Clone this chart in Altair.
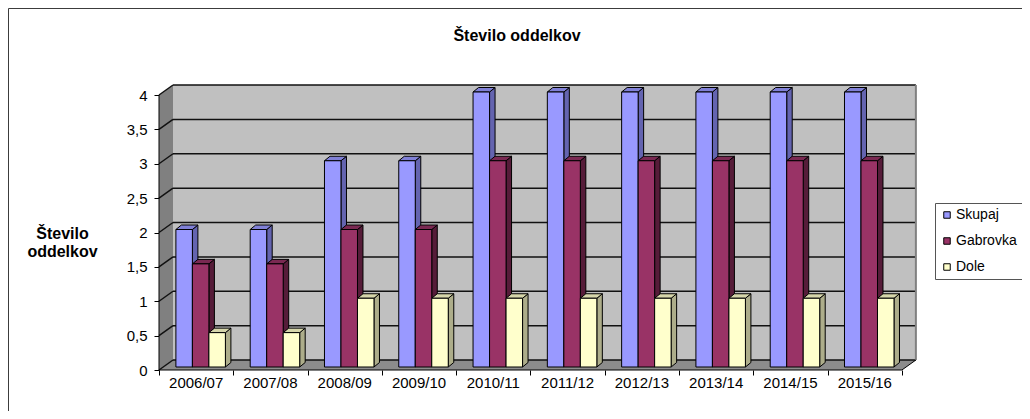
import altair as alt
import pandas as pd

# ---- data ----
categories = ["2006/07", "2007/08", "2008/09", "2009/10", "2010/11",
              "2011/12", "2012/13", "2013/14", "2014/15", "2015/16"]
skupaj = [2, 2, 3, 3, 4, 4, 4, 4, 4, 4]
gabrovka = [1.5, 1.5, 2, 2, 3, 3, 3, 3, 3, 3]
dole = [0.5, 0.5, 1, 1, 1, 1, 1, 1, 1, 1]
series_names = ["Skupaj", "Gabrovka", "Dole"]
y_ticks = [0, 0.5, 1, 1.5, 2, 2.5, 3, 3.5, 4]
chart_title = "Število oddelkov"

# ---- styles ----
front_colors = ["#9999FF", "#993366", "#FFFFCC"]
side_colors = ["#6464B0", "#561C39", "#ADAD8A"]
top_colors = ["#8080D6", "#7A2952", "#D6D6AA"]
FONT = "Liberation Sans"

# ---- geometry (plot area in px, converted to scale units) ----
W, H = 757, 286
XMAX, YMAX = 10.19, 4.16
PX, PY = W / XMAX, H / YMAX


def ux(p):
    return p / PX


def uy(p):
    return p / PY


N = len(categories)
YTOP = max(y_ticks)
WX, WY = ux(14), uy(10)          # wall depth
G0, BW = ux(12.4), ux(16.5)      # group gap, bar width
BX0, BY0 = ux(4.5), uy(3)        # bar front plane offset
BDX, BDY = ux(5.5), uy(4.5)      # bar depth

xscale = alt.Scale(domain=[0, XMAX], nice=False, zero=False)
yscale = alt.Scale(domain=[0, YMAX], nice=False, zero=False)
xaxis = alt.Axis(values=list(range(N + 1)), labels=False, tickSize=5, tickColor="black",
                 domain=False, grid=False, title=None)
yaxis = alt.Axis(values=y_ticks, format=".1~f", labelExpr="replace(datum.label, '.', ',')",
                 tickSize=5, tickColor="black", labelPadding=7, domain=False, grid=False,
                 labelFontSize=15, labelColor="black", labelFont=FONT,
                 title=["Število", "oddelkov"], titleAngle=0, titleX=-97, titleY=154,
                 titleAlign="center", titleBaseline="alphabetic", titleLineHeight=18,
                 titleFontSize=16, titleFontWeight="bold", titleColor="black", titleFont=FONT)


def X(f):
    return alt.X(f, type="quantitative", scale=xscale, axis=xaxis, stack=None)


def Y(f):
    return alt.Y(f, type="quantitative", scale=yscale, axis=yaxis, stack=None)


# walls
back_df = pd.DataFrame([{"x": WX, "x2": N + WX, "y": WY, "y2": YTOP + WY}])
back = alt.Chart(back_df).mark_rect(fill="#C0C0C0").encode(
    x=X("x"), x2="x2", y=Y("y"), y2="y2")

side_wall_df = pd.DataFrame([{"x": 0, "y": YTOP, "y2": 0}, {"x": WX, "y": YTOP + WY, "y2": WY}])
side_wall = alt.Chart(side_wall_df).mark_area(fill="#808080").encode(
    x=X("x"), y=Y("y"), y2="y2")

floor_df = pd.DataFrame([{"y": 0, "x": 0, "x2": N}, {"y": WY, "x": WX, "x2": N + WX}])
floor = alt.Chart(floor_df).mark_area(orient="horizontal", fill="#8C8C8C").encode(
    y=Y("y"), x=X("x"), x2="x2")

grid_df = pd.DataFrame([{"v": v, "vb": v + WY, "x0": 0, "xw": WX, "xe": N + WX} for v in y_ticks])
grid_back = alt.Chart(grid_df).mark_rule(color="#111111", strokeWidth=1.5).encode(
    x=X("xw"), x2="xe", y=Y("vb"))
grid_side = alt.Chart(grid_df).mark_rule(color="#111111", strokeWidth=1.5).encode(
    x=X("x0"), x2="xw", y=Y("v"), y2="vb")

right_edge = alt.Chart(pd.DataFrame([{"x": N + WX, "y": WY, "y2": YTOP + WY}])).mark_rule(
    color="#808080", strokeWidth=2).encode(x=X("x"), y=Y("y"), y2="y2")

edges_df = pd.DataFrame([
    {"x": 0, "x2": N, "y": 0, "y2": 0},
    {"x": N, "x2": N + WX, "y": 0, "y2": WY},
    {"x": 0, "x2": 0, "y": 0, "y2": YTOP},
])
edges = alt.Chart(edges_df).mark_rule(color="black", strokeWidth=1).encode(
    x=X("x"), x2="x2", y=Y("y"), y2="y2")

# bars
front_rows, side_rows, top_rows = [], [], []
values = [skupaj, gabrovka, dole]
for i, cat in enumerate(categories):
    for j, s in enumerate(series_names):
        v = values[j][i]
        bid = f"{i}-{j}"
        xl = i + G0 + j * BW + BX0
        xr = xl + BW
        yb = BY0
        yt = v + BY0
        front_rows.append({"series": s, "cat": cat, "value": v, "xl": xl, "xr": xr, "yb": yb, "yt": yt})
        side_rows.append({"id": bid, "c": side_colors[j], "x": xr, "y": yt, "y2": yb})
        side_rows.append({"id": bid, "c": side_colors[j], "x": xr + BDX, "y": yt + BDY, "y2": yb + BDY})
        top_rows.append({"id": bid, "c": top_colors[j], "y": yt, "x": xl, "x2": xr})
        top_rows.append({"id": bid, "c": top_colors[j], "y": yt + BDY, "x": xl + BDX, "x2": xr + BDX})

sides = alt.Chart(pd.DataFrame(side_rows)).mark_area(stroke="black", strokeWidth=1).encode(
    x=X("x"), y=Y("y"), y2="y2", detail="id:N", fill=alt.Fill("c:N", scale=None))
tops = alt.Chart(pd.DataFrame(top_rows)).mark_area(orient="horizontal", stroke="black", strokeWidth=1).encode(
    y=Y("y"), x=X("x"), x2="x2", detail="id:N", fill=alt.Fill("c:N", scale=None))
fronts = alt.Chart(pd.DataFrame(front_rows)).mark_rect(stroke="black", strokeWidth=1).encode(
    x=X("xl"), x2="xr", y=Y("yb"), y2="yt",
    color=alt.Color("series:N", scale=alt.Scale(domain=series_names, range=front_colors),
                    legend=alt.Legend(orient="none", legendX=776, legendY=119, title=None,
                                      strokeColor="#555555", fillColor="white", padding=5,
                                      symbolType="square", symbolSize=42,
                                      symbolStrokeColor="black", symbolStrokeWidth=1,
                                      labelFontSize=14, labelFont=FONT, labelColor="black",
                                      rowPadding=12, labelOffset=2)))

# category labels
lab_df = pd.DataFrame([{"cat": c, "xc": i + 0.5} for i, c in enumerate(categories)])
labels = alt.Chart(lab_df).mark_text(fontSize=15, font=FONT, color="black", baseline="middle").encode(
    x=X("xc"), y=alt.value(H + 13), text="cat:N")

# chart title
title = alt.Chart(pd.DataFrame([{"t": chart_title}])).mark_text(
    fontSize=16, fontWeight="bold", font=FONT, color="black", baseline="middle", align="center"
).encode(x=alt.value(358), y=alt.value(-48), text="t:N")

# outer frame (top & left edges)
frame_top = alt.Chart(pd.DataFrame([{"a": 0}])).mark_rule(color="#3c3c3c", strokeWidth=1).encode(
    x=alt.value(-150.5), x2=alt.value(W + 106), y=alt.value(-75.5))
frame_left = alt.Chart(pd.DataFrame([{"a": 0}])).mark_rule(color="#3c3c3c", strokeWidth=1).encode(
    x=alt.value(-150.5), y=alt.value(-75.5), y2=alt.value(H + 41))

chart = alt.layer(
    back, side_wall, floor, grid_back, grid_side, right_edge, edges,
    sides, tops, fronts, labels, title, frame_top, frame_left
).properties(
    width=W, height=H,
    autosize=alt.AutoSizeParams(type="none"),
    padding={"left": 151, "top": 76, "right": 106, "bottom": 41},
    background="white",
).configure(font=FONT).configure_view(stroke=None)

chart.save("out.html", embed_options={"renderer": "svg", "actions": False})
